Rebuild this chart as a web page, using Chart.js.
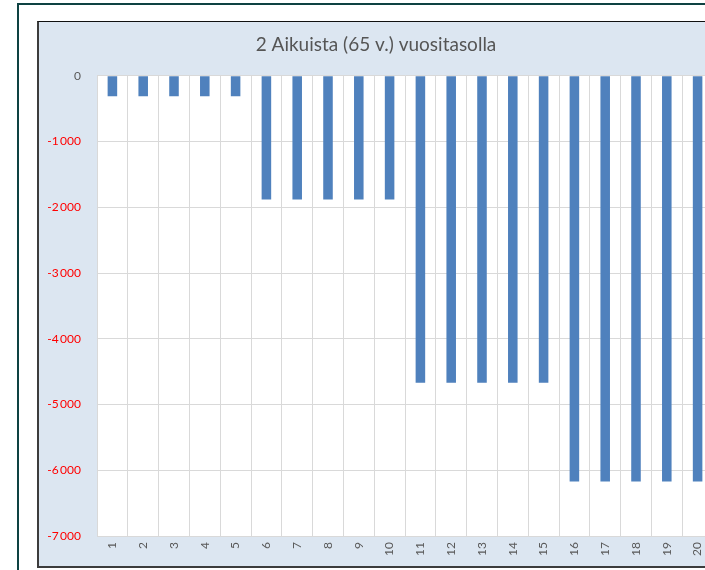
<!DOCTYPE html>
<html>
<head>
<meta charset="utf-8">
<script src="https://cdn.jsdelivr.net/npm/chart.js@4/dist/chart.umd.min.js"></script>
<style>
    html, body { margin: 0; padding: 0; background: #fff; overflow: hidden; }
    body { width: 705px; height: 570px; position: relative; }
    .frame {
        position: absolute; left: 17px; top: 3px; width: 760px; height: 640px;
        border: 2px solid #0e4242; border-right: none; border-bottom: none;
    }
    .box {
        position: absolute; left: 37px; top: 21px; width: 690px; height: 544px;
        background: #dce6f1;
        border-left: 2px solid #3c3c3c; border-top: 1px solid #111; border-bottom: 2px solid #3c3c3c;
    }
    .box canvas { display: block; }
</style>
</head>
<body>
<div class="frame"></div>
<div class="box"><canvas id="chart" width="690" height="544"></canvas></div>
<script>
const years = ['1', '2', '3', '4', '5', '6', '7', '8', '9', '10',
               '11', '12', '13', '14', '15', '16', '17', '18', '19', '20'];
const yearlyValues = [-310, -310, -310, -310, -310,
                      -1880, -1880, -1880, -1880, -1880,
                      -4670, -4670, -4670, -4670, -4670,
                      -6170, -6170, -6170, -6170, -6170];
const chartTitle = '2 Aikuista (65 v.) vuositasolla';

const FONT = 'Lato, "Open Sans", sans-serif';

// white plot area on top of the light blue background
const plotBackground = {
    id: 'plotBackground',
    beforeDraw(chart) {
        const { ctx, chartArea: a } = chart;
        ctx.save();
        ctx.fillStyle = '#ffffff';
        ctx.fillRect(a.left, a.top, a.right - a.left, a.bottom - a.top);
        ctx.restore();
    }
};

function formatTick(v) {
    const n = Math.abs(v);
    const s = n >= 1000 ? Math.floor(n / 1000) + '\u2009' + String(n % 1000).padStart(3, '0') : String(n);
    return (v < 0 ? '-' : '') + s;
}

const ctx = document.getElementById('chart').getContext('2d');
new Chart(ctx, {
    type: 'bar',
    data: {
        labels: years,
        datasets: [{
            data: yearlyValues,
            backgroundColor: '#4f81bd',
            borderWidth: 0,
            barPercentage: 0.31,
            categoryPercentage: 1.0
        }]
    },
    options: {
        responsive: false,
        animation: false,
        layout: { padding: { left: 0, right: 16, top: 0, bottom: 0 } },
        plugins: {
            legend: { display: false },
            tooltip: { enabled: false },
            title: {
                display: true,
                text: chartTitle,
                color: '#555555',
                font: { family: FONT, size: 19, weight: 'normal' },
                padding: { top: 11, bottom: 20 }
            }
        },
        scales: {
            x: {
                grid: { color: '#d9d9d9', drawTicks: false },
                border: { color: '#d9d9d9' },
                ticks: {
                    color: '#595959',
                    font: { family: FONT, size: 12 },
                    minRotation: 90,
                    maxRotation: 90,
                    padding: 6
                },
                afterFit(scale) { scale.height = 30; }
            },
            y: {
                min: -7000,
                max: 0,
                grid: { color: '#d9d9d9', drawTicks: false },
                border: { color: '#d9d9d9' },
                ticks: {
                    stepSize: 1000,
                    padding: 16,
                    font: { family: FONT, size: 12 },
                    color: c => (c.tick && c.tick.value < 0 ? '#ff0000' : '#595959'),
                    callback: v => formatTick(v)
                },
                afterFit(scale) { scale.width = 58; }
            }
        }
    },
    plugins: [plotBackground]
});
</script>
</body>
</html>
